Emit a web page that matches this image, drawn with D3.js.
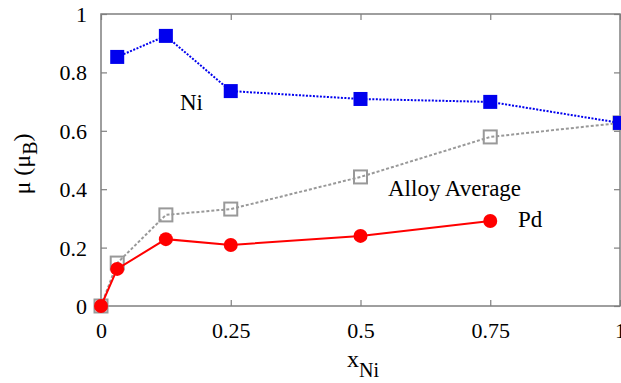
<!DOCTYPE html>
<html>
<head>
<meta charset="utf-8">
<script src="https://cdn.jsdelivr.net/npm/d3@7"></script>
<style>
  html, body { margin: 0; padding: 0; background: #fff; }
</style>
</head>
<body>
<svg id="chart" width="621" height="383" font-family="Liberation Serif"></svg>
<script>
// Ni concentration and local magnetic moments (in Bohr magnetons)
const niX = [0.03125, 0.125, 0.25, 0.5, 0.75, 1];
const niMoment = [0.853, 0.925, 0.736, 0.709, 0.699, 0.627];

const avgX = [0, 0.03125, 0.125, 0.25, 0.5, 0.75, 1];
const avgMoment = [0, 0.147, 0.312, 0.332, 0.442, 0.579, 0.627];

const pdX = [0, 0.03125, 0.125, 0.25, 0.5, 0.75];
const pdMoment = [0, 0.127, 0.229, 0.209, 0.240, 0.291];

const xTicks = [0, 0.25, 0.5, 0.75, 1];
const xTickLabels = ["0", "0.25", "0.5", "0.75", "1"];
const yTicks = [0, 0.2, 0.4, 0.6, 0.8, 1];
const yTickLabels = ["0", "0.2", "0.4", "0.6", "0.8", "1"];

(function () {
const FONT = "Liberation Serif";
const svg = d3.select("#chart");
const plotLeft = 101, plotRight = 620, plotTop = 14, plotBottom = 306;

const x = d3.scaleLinear().domain([0, 1]).range([plotLeft, plotRight]);
const y = d3.scaleLinear().domain([0, 1]).range([plotBottom, plotTop]);

const axisColor = "#7f7f7f";

// frame
svg.append("rect")
  .attr("x", plotLeft).attr("y", plotTop)
  .attr("width", plotRight - plotLeft).attr("height", plotBottom - plotTop)
  .attr("fill", "none").attr("stroke", axisColor).attr("stroke-width", 1.5);

// axes with inward ticks, mirrored on opposite sides
const xAxis = svg.append("g").attr("transform", `translate(0,${plotBottom})`)
  .call(d3.axisBottom(x).tickValues(xTicks).tickSize(-6).tickPadding(16)
    .tickFormat((d, i) => xTickLabels[i]));
const xAxisTop = svg.append("g").attr("transform", `translate(0,${plotTop})`)
  .call(d3.axisTop(x).tickValues(xTicks).tickSize(-6).tickFormat(""));
const yAxis = svg.append("g").attr("transform", `translate(${plotLeft},0)`)
  .call(d3.axisLeft(y).tickValues(yTicks).tickSize(-6).tickPadding(14)
    .tickFormat((d, i) => yTickLabels[i]));
const yAxisRight = svg.append("g").attr("transform", `translate(${plotRight},0)`)
  .call(d3.axisRight(y).tickValues(yTicks).tickSize(-6).tickFormat(""));

[xAxis, xAxisTop, yAxis, yAxisRight].forEach(g => {
  g.attr("font-family", FONT).attr("font-size", 22);
  g.select(".domain").remove();
  g.selectAll(".tick line").attr("stroke", axisColor).attr("stroke-width", 1.2);
  g.selectAll(".tick text").attr("fill", "#000");
});
xAxis.selectAll(".tick text").attr("dy", "0.71em");
yAxis.selectAll(".tick text").attr("dy", "0.34em");

const line = d3.line().x(d => x(d[0])).y(d => y(d[1]));

// Alloy average
const avgData = avgX.map((v, i) => [v, avgMoment[i]]);
svg.append("path").datum(avgData).attr("d", line)
  .attr("fill", "none").attr("stroke", "#999").attr("stroke-width", 2)
  .attr("stroke-dasharray", "3,2");
svg.selectAll(".avg").data(avgData).enter().append("rect")
  .attr("x", d => x(d[0]) - 6.5).attr("y", d => y(d[1]) - 6.5)
  .attr("width", 13).attr("height", 13)
  .attr("fill", "none").attr("stroke", "#999").attr("stroke-width", 2);

// Ni
const niData = niX.map((v, i) => [v, niMoment[i]]);
svg.append("path").datum(niData).attr("d", line)
  .attr("fill", "none").attr("stroke", "#0000ee").attr("stroke-width", 2)
  .attr("stroke-dasharray", "2,1.5");
svg.selectAll(".ni").data(niData).enter().append("rect")
  .attr("x", d => x(d[0]) - 7).attr("y", d => y(d[1]) - 7)
  .attr("width", 14).attr("height", 14)
  .attr("fill", "#0000ee");

// Pd
const pdData = pdX.map((v, i) => [v, pdMoment[i]]);
svg.append("path").datum(pdData).attr("d", line)
  .attr("fill", "none").attr("stroke", "#ff0000").attr("stroke-width", 2);
svg.selectAll(".pd").data(pdData).enter().append("circle")
  .attr("cx", d => x(d[0])).attr("cy", d => y(d[1])).attr("r", 7)
  .attr("fill", "#ff0000");

// series labels
const label = (tx, ty, s) => svg.append("text").attr("x", tx).attr("y", ty)
  .attr("font-family", FONT).attr("font-size", 23).attr("fill", "#000").text(s);
label(180, 110, "Ni");
label(388, 196, "Alloy Average");
label(518, 227, "Pd");

// axis titles
const xt = svg.append("text").attr("x", 347).attr("y", 367)
  .attr("font-family", FONT).attr("font-size", 24).attr("fill", "#000");
xt.append("tspan").text("x");
xt.append("tspan").attr("dy", 10).attr("font-size", 20).text("Ni");

const yt = svg.append("text")
  .attr("transform", "translate(30,164) rotate(-90)")
  .attr("text-anchor", "middle")
  .attr("font-family", FONT).attr("font-size", 24).attr("fill", "#000");
yt.append("tspan").text("μ  (μ");
yt.append("tspan").attr("dy", 7).attr("font-size", 20).text("B");
yt.append("tspan").attr("dy", -7).text(")");
})();
</script>
</body>
</html>
